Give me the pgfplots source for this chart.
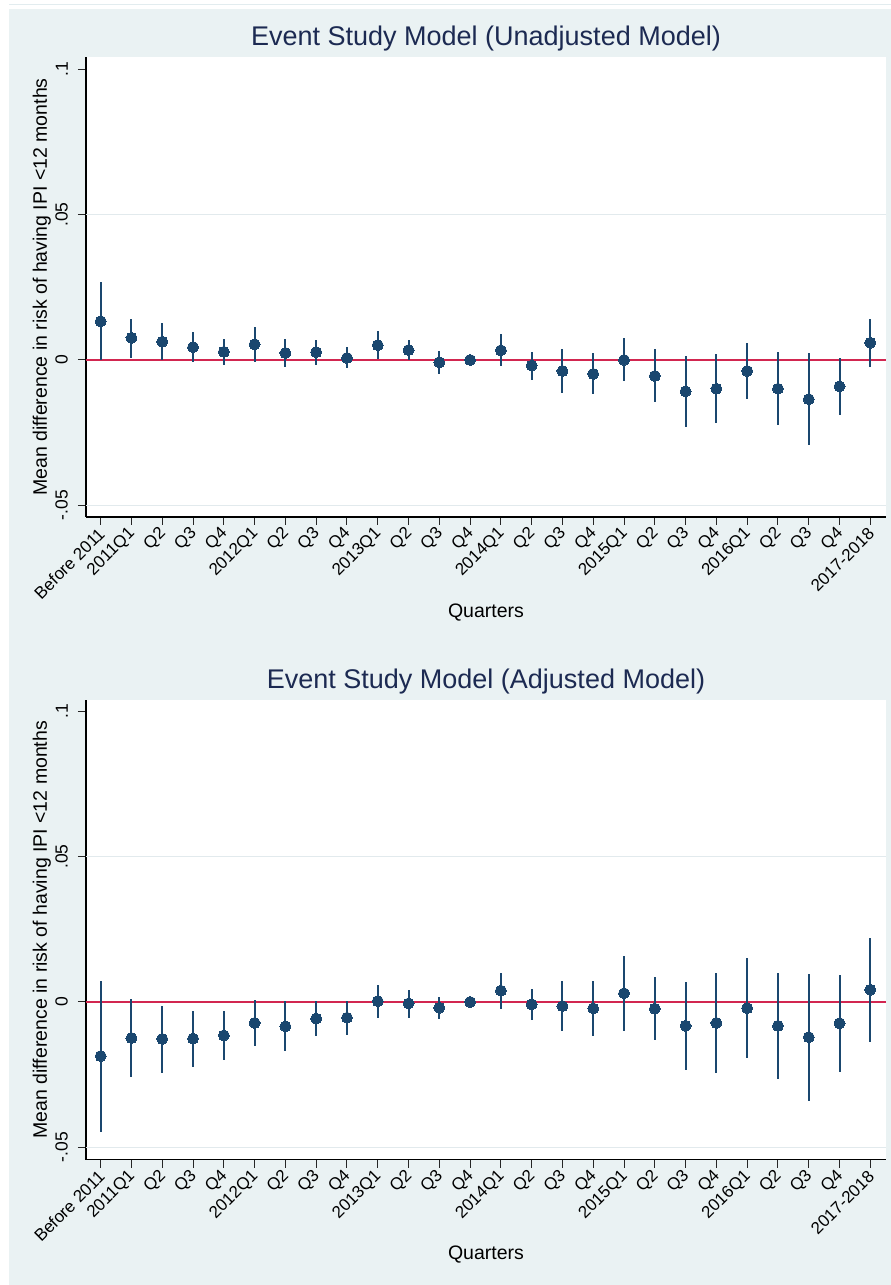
\documentclass[border=0pt]{standalone}
\usepackage{pgfplots}
\pgfplotsset{compat=1.18}
\usepackage{pgfplotstable}
\usepackage{fontspec}
\setmainfont{Liberation Sans}

\definecolor{bg}{RGB}{234,242,243}
\definecolor{stnavy}{RGB}{26,71,111}
\definecolor{ttl}{RGB}{28,42,82}
\definecolor{refred}{RGB}{210,38,80}
\definecolor{gridc}{RGB}{226,234,237}
\definecolor{topline}{RGB}{226,236,239}

\pgfplotstableread{
x y lo hi
0 0.0133 0.0000 0.0268
1 0.0076 0.0008 0.0142
2 0.0063 0.0000 0.0126
3 0.0044 -0.0008 0.0095
4 0.0028 -0.0017 0.0071
5 0.0054 -0.0006 0.0114
6 0.0024 -0.0024 0.0071
7 0.0027 -0.0017 0.0069
8 0.0007 -0.0028 0.0044
9 0.0051 0.0004 0.0098
10 0.0034 -0.0001 0.0070
11 -0.0008 -0.0049 0.0031
12 0.0000 0.0000 0.0000
13 0.0033 -0.0022 0.0088
14 -0.0019 -0.0068 0.0029
15 -0.0038 -0.0113 0.0039
16 -0.0048 -0.0117 0.0023
17 0.0000 -0.0072 0.0074
18 -0.0055 -0.0145 0.0037
19 -0.0108 -0.0231 0.0015
20 -0.0099 -0.0217 0.0020
21 -0.0038 -0.0133 0.0060
22 -0.0099 -0.0224 0.0026
23 -0.0135 -0.0294 0.0023
24 -0.0091 -0.0189 0.0008
25 0.0059 -0.0024 0.0142
}\unadj

\pgfplotstableread{
x y lo hi
0 -0.0186 -0.0448 0.0072
1 -0.0124 -0.0257 0.0009
2 -0.0127 -0.0243 -0.0014
3 -0.0126 -0.0223 -0.0030
4 -0.0115 -0.0199 -0.0031
5 -0.0072 -0.0150 0.0006
6 -0.0084 -0.0170 0.0002
7 -0.0057 -0.0116 0.0002
8 -0.0054 -0.0113 0.0003
9 0.0003 -0.0054 0.0059
10 -0.0005 -0.0056 0.0042
11 -0.0020 -0.0057 0.0016
12 0.0000 0.0000 0.0000
13 0.0039 -0.0024 0.0100
14 -0.0008 -0.0061 0.0044
15 -0.0014 -0.0101 0.0072
16 -0.0022 -0.0117 0.0072
17 0.0030 -0.0101 0.0160
18 -0.0023 -0.0132 0.0085
19 -0.0082 -0.0233 0.0069
20 -0.0072 -0.0243 0.0099
21 -0.0021 -0.0192 0.0150
22 -0.0082 -0.0264 0.0099
23 -0.0121 -0.0339 0.0097
24 -0.0073 -0.0240 0.0092
25 0.0042 -0.0139 0.0220
}\adj

\pgfplotsset{
  every axis title shift=0pt,
  esstyle/.style={
    scale only axis,
    width=800pt, height=460pt,
    xmin=-0.478, xmax=25.51,
    axis x line*=bottom, axis y line*=left,
    axis line style={line width=1.1pt, black},
    axis background/.style={fill=white},
    tick align=outside,
    major tick length=8pt,
    tick style={line width=1pt, black!85},
    xtick={0,...,25},
    xticklabels={Before 2011, 2011Q1, Q2, Q3, Q4, 2012Q1, Q2, Q3, Q4, 2013Q1, Q2, Q3, Q4, 2014Q1, Q2, Q3, Q4, 2015Q1, Q2, Q3, Q4, 2016Q1, Q2, Q3, Q4, 2017-2018},
    ytick={-0.05,0,0.05,0.1},
    yticklabels={-.05,0,.05,.1},
    xticklabel style={xshift=1pt, yshift=-6pt, font=\fontsize{17}{20}\selectfont, rotate=45, anchor=east, inner sep=0pt},
    yticklabel style={xshift=-10pt, font=\fontsize{17.5}{20}\selectfont, rotate=90, anchor=south, inner sep=0pt},
    title style={font=\fontsize{27}{32}\selectfont, color=ttl, anchor=base, inner sep=0pt},
    xlabel={Quarters},
    xlabel style={font=\fontsize{19.5}{23}\selectfont, anchor=base, at={(axis description cs:0.5,-0.218)}},
    ylabel={Mean difference in risk of having IPI <12 months},
    ylabel style={font=\fontsize{19.5}{23}\selectfont, anchor=base, at={(axis description cs:-0.04875,0.5)}},
    clip=false,
  },
  ciplot/.style={only marks, mark=*, mark size=5.5pt, color=stnavy,
    mark options={fill=stnavy, draw=stnavy, line width=0pt},
    error bars/.cd, y dir=both, y explicit, error mark=none,
    error bar style={line width=2pt, color=stnavy}},
}

\begin{document}
\begin{tikzpicture}[x=1pt,y=1pt]
\fill[white] (0,0) rectangle (891,1285);
\fill[bg] (9,0) rectangle (891,1276);
\draw[topline, line width=1pt] (9,1280.5) -- (891,1280.5);

\begin{axis}[esstyle, at={(86pt,768pt)}, anchor=south west,
  ymin=-0.05403, ymax=0.10423,
  title={Event Study Model (Unadjusted Model)},
  title style={at={(axis description cs:0.5,1.0246)}}]
  \draw[gridc, line width=1pt] (axis cs:-0.478,0.05) -- (axis cs:25.51,0.05);
  \draw[gridc, line width=1pt] (axis cs:-0.478,-0.05) -- (axis cs:25.51,-0.05);
  \draw[refred, line width=2pt] (axis cs:-0.478,0) -- (axis cs:25.51,0);
  \addplot[ciplot] table[x=x, y=y, y error plus expr={\thisrow{hi}-\thisrow{y}}, y error minus expr={\thisrow{y}-\thisrow{lo}}] {\unadj};
\end{axis}

\begin{axis}[esstyle, at={(86pt,125.3pt)}, anchor=south west,
  ymin=-0.05427, ymax=0.10403,
  title={Event Study Model (Adjusted Model)},
  title style={at={(axis description cs:0.5,1.0254)}}]
  \draw[gridc, line width=1pt] (axis cs:-0.478,0.05) -- (axis cs:25.51,0.05);
  \draw[gridc, line width=1pt] (axis cs:-0.478,-0.05) -- (axis cs:25.51,-0.05);
  \draw[refred, line width=2pt] (axis cs:-0.478,0) -- (axis cs:25.51,0);
  \addplot[ciplot] table[x=x, y=y, y error plus expr={\thisrow{hi}-\thisrow{y}}, y error minus expr={\thisrow{y}-\thisrow{lo}}] {\adj};
\end{axis}

\pgfresetboundingbox
\path[use as bounding box] (0,0) rectangle (891,1285);
\end{tikzpicture}
\end{document}
